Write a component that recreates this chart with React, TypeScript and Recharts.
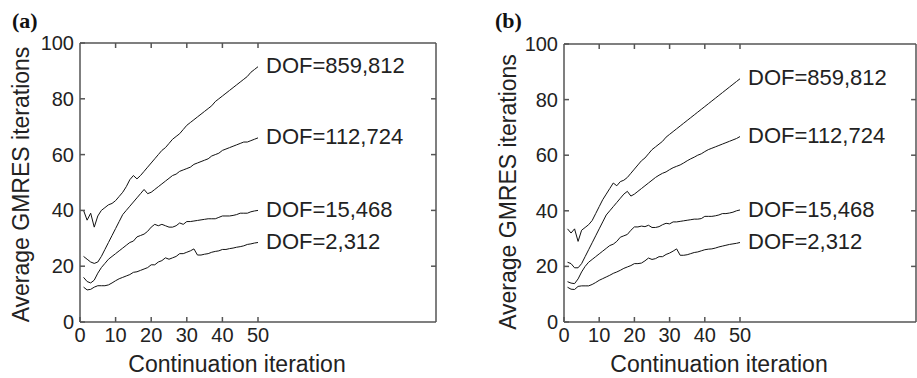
import { LineChart, Line, XAxis, YAxis, ReferenceLine } from "recharts";

const iterations = [
  1, 2, 3, 4, 5, 6, 7, 8, 9, 10, 11, 12, 13, 14, 15, 16, 17, 18, 19, 20, 21, 22, 23, 24, 25,
  26, 27, 28, 29, 30, 31, 32, 33, 34, 35, 36, 37, 38, 39, 40, 41, 42, 43, 44, 45, 46, 47, 48, 49, 50,
];

const dofLabels = ["DOF=2,312", "DOF=15,468", "DOF=112,724", "DOF=859,812"];

const xTicks = [0, 10, 20, 30, 40, 50];
const yTicks = [0, 20, 40, 60, 80, 100];

// panel (a)
const a2312 = [12.5, 11.5, 11.7, 12.5, 13, 13, 13, 13.3, 14, 14.8, 15.5, 16, 16.5, 17, 17.8, 18, 18.5, 19, 19.5, 20.5, 20.5, 21.5, 22, 23, 22.5, 23, 23.5, 24.5, 24.5, 25, 25.5, 26.2, 24, 24, 24.3, 24.5, 25, 25.3, 25.5, 26, 26, 26.3, 26.5, 26.8, 27, 27.3, 27.8, 28, 28.3, 28.5];
const a15468 = [16, 14.5, 14, 15, 17.5, 19.5, 21, 22.5, 23.5, 24.5, 25.5, 26.5, 27.5, 28.5, 29, 30.5, 31, 31.5, 32.5, 34, 35, 34.5, 35, 34.5, 34, 34, 34.5, 35.5, 35, 36, 36, 36.2, 36.4, 36.6, 36.8, 37, 37, 37, 37.5, 38, 38, 38, 38.2, 38.5, 39, 39, 39, 39.5, 39.8, 40];
const a112724 = [23.5, 22.5, 21.5, 21, 21.5, 23.5, 26, 28.5, 31, 33.5, 36, 38.5, 40, 41.5, 43, 44.5, 46, 47.5, 46, 46.5, 47.5, 48.5, 49.5, 50.5, 51.5, 52.5, 53, 54, 54.5, 55, 55.5, 56.5, 57, 57.5, 58, 58.5, 59.5, 60, 60.5, 61.5, 62, 62.5, 63, 63.5, 64, 64.5, 64.5, 65, 65.5, 66];
const a859812 = [40, 36.5, 39, 34, 38, 40, 41, 42, 42.5, 43.5, 45, 46.5, 48.5, 51, 52.5, 51.3, 52.5, 54, 55.5, 57, 58.5, 60, 61.5, 62.5, 64, 65.5, 66.5, 67.5, 69, 70.5, 71.5, 72.5, 73.5, 74.5, 75.5, 76.5, 77.5, 79, 80, 81, 82, 83, 84, 85, 86, 87, 88, 89.5, 90.5, 91.5];

// panel (b)
const b2312 = [12.5, 11.8, 11.7, 12.8, 13, 13, 13, 13.5, 14.2, 15, 15.6, 16.2, 16.8, 17.5, 18, 18.6, 19.3, 19.8, 20.3, 21, 21, 21.2, 22, 23, 22.5, 22.8, 23.5, 23.5, 24.3, 24.8, 25.5, 26.3, 24, 24, 24.2, 24.6, 25, 25.2, 25.6, 26, 26.2, 26.3, 26.6, 27, 27.3, 27.6, 27.9, 28.1, 28.3, 28.6];
const b15468 = [14.5, 14, 13.8, 15.5, 18, 20, 21.5, 22.5, 23.5, 24.5, 25.5, 26.5, 27.5, 28, 29, 30.5, 31, 31.5, 33, 34.2, 34.2, 34.5, 34.3, 34.8, 34, 34, 34.3, 35, 35.5, 35.3, 36, 36, 36.2, 36.4, 36.6, 36.8, 37, 37, 37.2, 38, 38, 38, 38.2, 38.5, 39, 39, 39.2, 39.5, 40, 40.3];
const b112724 = [21.5, 21, 19.5, 19.5, 21, 23.5, 26, 28.5, 31, 33.5, 36, 38.5, 40, 41.5, 43, 44.5, 46, 47, 45.3, 46, 47, 48, 49, 50, 51, 52, 52.8, 53.5, 54, 54.8, 55.5, 56, 56.5, 57.2, 58, 58.7, 59.3, 60, 60.5, 61.3, 62, 62.5, 63, 63.5, 64, 64.5, 65, 65.5, 66, 66.7];
const b859812 = [33.5, 32, 33.5, 29, 33, 34, 35, 36.5, 39, 41.5, 44, 46, 48, 50, 49, 50.5, 51, 52, 53.5, 55, 56.5, 58, 59, 60.5, 62, 63, 64, 65, 66.5, 67.5, 68.5, 69.5, 70.5, 71.5, 72.5, 73.5, 74.5, 75.5, 76.5, 77.5, 78.5, 79.5, 80.5, 81.5, 82.5, 83.5, 84.5, 85.5, 86.5, 87.5];

const AXIS = "#555";
const FONT = "'Liberation Sans', Arial, sans-serif";

function buildRows(series: number[][]) {
  return iterations.map((x, i) => {
    const row: any = { x };
    series.forEach((s, k) => (row["s" + k] = s[i]));
    return row;
  });
}

function endLabel(text: string) {
  return (props: any) => {
    if (props.index !== iterations.length - 1) return null;
    return (
      <text x={props.x + 8} y={props.y} dy="0.3em" fontSize={22} fill="#222" fontFamily={FONT}>
        {text}
      </text>
    );
  };
}

const BottomTick = (p: any) => (
  <text x={p.x} y={p.y} dy="0.71em" textAnchor="middle" fontSize={20} fill="#222" fontFamily={FONT}>
    {p.payload.value}
  </text>
);

const LeftTick = (p: any) => (
  <text x={p.x} y={p.y} dy="0.35em" textAnchor="end" fontSize={20} fill="#222" fontFamily={FONT}>
    {p.payload.value}
  </text>
);

function Panel({ series, left, width, marginLeft, marginRight, top }: any) {
  const rows = buildRows(series);
  return (
    <div style={{ position: "absolute", left, top: 0 }}>
      <LineChart
        width={width}
        height={378}
        data={rows}
        margin={{ top, right: marginRight, bottom: 26, left: marginLeft }}
      >
        <XAxis
          dataKey="x"
          type="number"
          domain={[0, 100]}
          ticks={xTicks}
          height={30}
          stroke={AXIS}
          strokeWidth={1.5}
          tickSize={-5}
          tickMargin={11}
          tick={BottomTick}
          interval={0}
        />
        <YAxis
          type="number"
          domain={[0, 100]}
          ticks={yTicks}
          width={40}
          stroke={AXIS}
          strokeWidth={1.5}
          tickSize={-5}
          tickMargin={11}
          tick={LeftTick}
          interval={0}
        />
        {/* box: top and right edges with inward ticks */}
        <ReferenceLine y={100} stroke={AXIS} strokeWidth={1.5} ifOverflow="visible" />
        <ReferenceLine x={100} stroke={AXIS} strokeWidth={1.5} ifOverflow="visible" />
        {xTicks.slice(1).map((t) => (
          <ReferenceLine
            key={"tx" + t}
            segment={[{ x: t, y: 100 }, { x: t, y: 98.2 }]}
            stroke={AXIS}
            strokeWidth={1.5}
            ifOverflow="visible"
          />
        ))}
        {yTicks.slice(1, -1).map((t) => (
          <ReferenceLine
            key={"ty" + t}
            segment={[{ x: 100, y: t }, { x: 98.6, y: t }]}
            stroke={AXIS}
            strokeWidth={1.5}
            ifOverflow="visible"
          />
        ))}
        {series.map((_: number[], k: number) => (
          <Line
            key={k}
            dataKey={"s" + k}
            stroke="#111"
            strokeWidth={1}
            dot={false}
            isAnimationActive={false}
            label={endLabel(dofLabels[k])}
          />
        ))}
      </LineChart>
    </div>
  );
}

export default function App() {
  const titleStyle = { fontSize: 23, fill: "#222", fontFamily: FONT };
  return (
    <div style={{ position: "absolute", left: 0, top: 0, width: 917, height: 378, background: "#fff" }}>
      <Panel series={[a2312, a15468, a112724, a859812]} left={0} width={460} marginLeft={40} marginRight={24} top={43} />
      <Panel series={[b2312, b15468, b112724, b859812]} left={460} width={457} marginLeft={64} marginRight={1} top={44} />
      <svg width={917} height={378} style={{ position: "absolute", left: 0, top: 0, pointerEvents: "none" }}>
        <text x={12} y={28} fontSize={22} fontWeight="bold" fontFamily="'Liberation Serif', serif" fill="#111">(a)</text>
        <text x={495} y={28} fontSize={22} fontWeight="bold" fontFamily="'Liberation Serif', serif" fill="#111">(b)</text>
        <text x={237} y={372} textAnchor="middle" {...titleStyle}>Continuation iteration</text>
        <text x={719} y={372} textAnchor="middle" {...titleStyle}>Continuation iteration</text>
        <text x={29} y={184.5} textAnchor="middle" transform="rotate(-90 29 184.5)" {...titleStyle}>Average GMRES iterations</text>
        <text x={516} y={192} textAnchor="middle" transform="rotate(-90 516 192)" {...titleStyle}>Average GMRES iterations</text>
      </svg>
    </div>
  );
}
